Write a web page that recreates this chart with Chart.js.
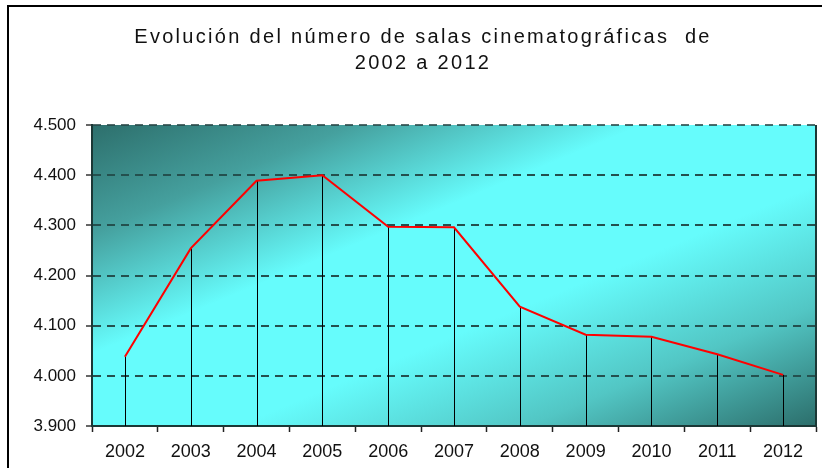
<!DOCTYPE html>
<html>
<head>
<meta charset="utf-8">
<script src="https://cdn.jsdelivr.net/npm/chart.js@4.4.1/dist/chart.umd.min.js"></script>
<style>
  html, body { margin: 0; padding: 0; background: #fff; }
  #wrap { width: 822px; height: 468px; }
</style>
</head>
<body>
<div id="wrap"><canvas id="chart" width="822" height="468"></canvas></div>
<script>
// data
var years = ['2002', '2003', '2004', '2005', '2006', '2007', '2008', '2009', '2010', '2011', '2012'];
var salas = [4038, 4254, 4389, 4400, 4297, 4296, 4138, 4082, 4078, 4043, 4002];
var titleLines = ['Evolución del número de salas cinematográficas  de', '2002 a 2012'];
var yMin = 3900, yMax = 4500, yStep = 100;

// plot background, frame and title
var decor = {
    id: 'decor',
    beforeDraw: function(chart) {
        var ctx = chart.ctx, a = chart.chartArea;
        ctx.save();
        ctx.fillStyle = '#fff';
        ctx.fillRect(0, 0, chart.width, chart.height);

        // diagonal gradient: dark corners top-left / bottom-right, cyan band between
        var w = a.right - a.left, h = a.bottom - a.top;
        var len = Math.sqrt(w * w + h * h);
        var dx = h / len, dy = w / len;
        var dist = (w / 2 * dx + h / 2 * dy) * 2;
        var g = ctx.createLinearGradient(a.left, a.top, a.left + dx * dist, a.top + dy * dist);
        g.addColorStop(0, '#2d6f6c');
        g.addColorStop(0.18, '#45a09e');
        g.addColorStop(0.38, '#66fcfc');
        g.addColorStop(0.6, '#66fcfc');
        g.addColorStop(0.8, '#52c6c4');
        g.addColorStop(1, '#2c6e6b');
        ctx.fillStyle = g;
        ctx.fillRect(a.left, a.top, w, h);

        // outer frame (left + top)
        ctx.strokeStyle = '#000';
        ctx.lineWidth = 2;
        ctx.beginPath();
        ctx.moveTo(8, chart.height + 2);
        ctx.lineTo(8, 6);
        ctx.lineTo(chart.width + 2, 6);
        ctx.stroke();

        // title
        ctx.fillStyle = '#111';
        ctx.font = '20px "Liberation Sans", Arial, sans-serif';
        ctx.letterSpacing = '2.3px';
        ctx.textBaseline = 'alphabetic';
        ctx.textAlign = 'left';
        var ys = [43, 69];
        for (var i = 0; i < titleLines.length; i++) {
            var tw = ctx.measureText(titleLines[i]).width;
            ctx.fillText(titleLines[i], 423 - tw / 2, ys[i]);
        }
        ctx.letterSpacing = '0px';
        ctx.restore();
    },
    beforeDatasetsDraw: function(chart) {
        var ctx = chart.ctx, a = chart.chartArea;
        var xs = chart.scales.x, ys = chart.scales.y;
        ctx.save();
        // drop lines from each point down to the axis
        ctx.strokeStyle = '#000';
        ctx.lineWidth = 1;
        ctx.beginPath();
        for (var i = 0; i < salas.length; i++) {
            var px = Math.round(xs.getPixelForValue(i)) + 0.5;
            ctx.moveTo(px, ys.getPixelForValue(salas[i]));
            ctx.lineTo(px, a.bottom);
        }
        ctx.stroke();
        // right edge of plot
        ctx.strokeStyle = '#1b3836';
        ctx.lineWidth = 2;
        ctx.beginPath();
        ctx.moveTo(a.right, a.top);
        ctx.lineTo(a.right, a.bottom);
        ctx.stroke();
        ctx.restore();
    }
};

var ctx = document.getElementById('chart');

var chart = new Chart(ctx, {
    type: 'line',
    data: {
        labels: years,
        datasets: [{
            label: 'Salas',
            data: salas,
            borderColor: '#ff0000',
            borderWidth: 2,
            pointRadius: 0,
            tension: 0,
            fill: false
        }]
    },
    options: {
        responsive: false,
        animation: false,
        layout: { padding: { top: 125, right: 6, left: 0, bottom: 0 } },
        plugins: {
            legend: { display: false },
            title: { display: false },
            tooltip: { enabled: false }
        },
        scales: {
            x: {
                offset: true,
                afterFit: function(s) { s.height = 42; },
                grid: {
                    offset: true,
                    drawOnChartArea: false,
                    drawTicks: true,
                    tickLength: 6,
                    tickColor: '#222',
                    tickWidth: 1.5
                },
                border: { display: true, color: '#1b3836', width: 2 },
                ticks: {
                    color: '#111',
                    padding: 9,
                    maxRotation: 0,
                    font: { family: '"Liberation Sans", Arial, sans-serif', size: 18 }
                }
            },
            y: {
                min: yMin,
                max: yMax,
                afterFit: function(s) { s.width = 92; },
                grid: {
                    color: function(c) { return c.tick.value === yMax ? 'rgba(40,70,70,0.8)' : '#24504e'; },
                    lineWidth: function(c) { return c.tick.value === yMin ? 0 : 2; },
                    drawTicks: true,
                    tickLength: 6,
                    tickColor: '#333',
                    tickWidth: 1.5,
                    tickBorderDash: []
                },
                border: { display: true, color: '#1b3836', width: 2, dash: [8, 6] },
                ticks: {
                    stepSize: yStep,
                    color: '#111',
                    padding: 10,
                    font: { family: '"Liberation Sans", Arial, sans-serif', size: 17 },
                    callback: function(v) {
                        return String(v).replace(/\B(?=(\d{3})+(?!\d))/g, '.');
                    }
                }
            }
        }
    },
    plugins: [decor]
});
</script>
</body>
</html>
